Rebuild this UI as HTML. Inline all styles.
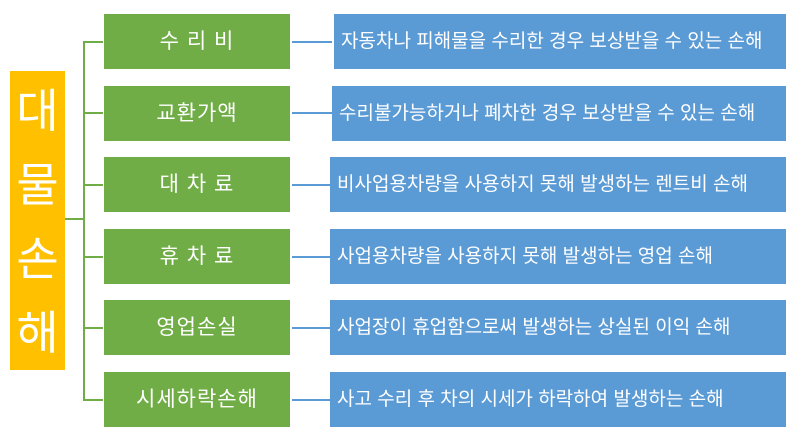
<!DOCTYPE html><html><head><meta charset="utf-8"><style>
body{margin:0;width:800px;height:437px;background:#fff;position:relative;overflow:hidden;font-family:"Liberation Sans","Noto Sans CJK KR",sans-serif}
div{position:absolute;box-sizing:border-box;color:#fff}
.y{left:10px;top:71px;width:55px;height:299px;background:#ffc000;font-size:46px;text-align:center;line-height:74px;padding-top:3px}
.g{left:104px;width:186px;height:55px;background:#70ad47;font-size:21px;text-align:center;line-height:55px;letter-spacing:1px}
.b{width:455px;height:55px;background:#5b9bd5;font-size:19px;line-height:55px;padding-left:7px;white-space:nowrap}
.l{background:#70ad47}
.bl{left:292px;width:40px;height:2px;background:#5b9bd5}
</style></head><body>
<div class="y">대<br>물<br>손<br>해</div>
<div class="l" style="left:65px;top:218px;width:20px;height:2px"></div>
<div class="l" style="left:83px;top:41px;width:2px;height:360px"></div>
<div class="l" style="left:83px;top:41px;width:20px;height:2px"></div>
<div class="l" style="left:83px;top:112px;width:20px;height:2px"></div>
<div class="l" style="left:83px;top:184px;width:20px;height:2px"></div>
<div class="l" style="left:83px;top:256px;width:20px;height:2px"></div>
<div class="l" style="left:83px;top:327px;width:20px;height:2px"></div>
<div class="l" style="left:83px;top:399px;width:20px;height:2px"></div>
<div class="g" style="top:14px">수 리 비</div>
<div class="g" style="top:86px">교환가액</div>
<div class="g" style="top:157px">대 차 료</div>
<div class="g" style="top:229px">휴 차 료</div>
<div class="g" style="top:300px">영업손실</div>
<div class="g" style="top:372px">시세하락손해</div>
<div class="bl" style="top:41px"></div>
<div class="bl" style="top:112px"></div>
<div class="bl" style="top:184px"></div>
<div class="bl" style="top:256px"></div>
<div class="bl" style="top:327px"></div>
<div class="bl" style="top:399px"></div>
<div class="b" style="left:334px;width:452px;top:14px">자동차나 피해물을 수리한 경우 보상받을 수 있는 손해</div>
<div class="b" style="left:332px;width:454px;top:86px">수리불가능하거나 폐차한 경우 보상받을 수 있는 손해</div>
<div class="b" style="left:330px;width:456px;top:157px">비사업용차량을 사용하지 못해 발생하는 렌트비 손해</div>
<div class="b" style="left:330px;width:456px;top:229px">사업용차량을 사용하지 못해 발생하는 영업 손해</div>
<div class="b" style="left:330px;width:456px;top:300px">사업장이 휴업함으로써 발생하는 상실된 이익 손해</div>
<div class="b" style="left:330px;width:456px;top:372px">사고 수리 후 차의 시세가 하락하여 발생하는 손해</div>
</body></html>
